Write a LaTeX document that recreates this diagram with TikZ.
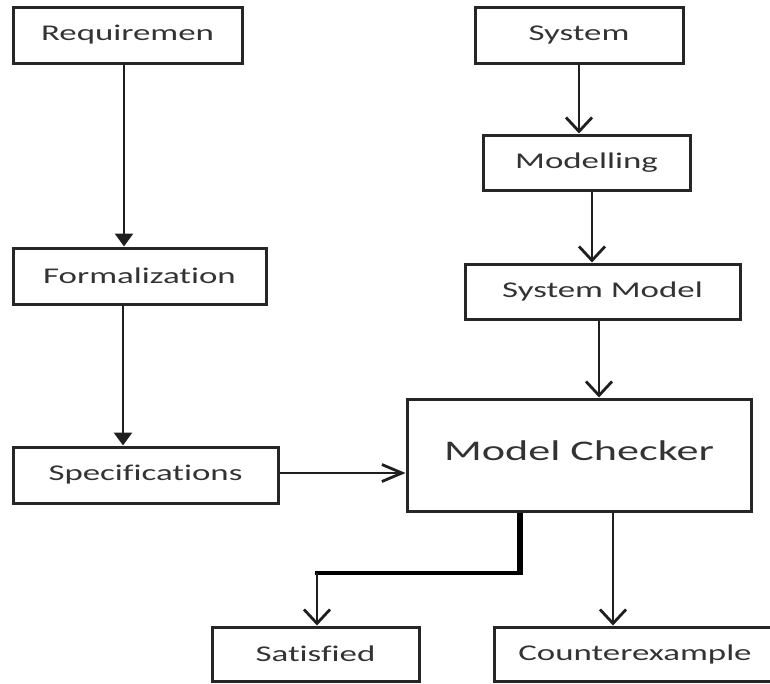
\documentclass[tikz,border=0pt]{standalone}
\usepackage{fontspec}
\setmainfont{Carlito}[FakeStretch=1.55,Ligatures={NoCommon}]
\usetikzlibrary{arrows.meta}
\begin{document}
\begin{tikzpicture}[x=1pt,y=-1pt,
  box/.style={draw=black!85, line width=3pt, rectangle, inner sep=0pt,
    font=\fontsize{22.5}{26}\selectfont, text=black!80},
  flow/.style={line width=2.8pt, draw=black!88},
  filltip/.style={-{Triangle[length=13pt,width=18pt]}},
  barbtip/.style={-{Straight Barb[length=14pt,width=26pt]}},
  longbarb/.style={-{Straight Barb[length=20pt,width=17pt]}}]
\useasboundingbox (0,0) rectangle (770,683);
\node[box, minimum width=229pt, minimum height=56pt] (req) at (127.5,35) {Requiremen};
\node[box, minimum width=253pt, minimum height=56pt] (form) at (139.5,276) {Formalization};
\node[box, minimum width=265pt, minimum height=56pt] (spec) at (145.5,475) {Specifications};
\node[box, minimum width=208pt, minimum height=56pt] (sys) at (579,35) {System};
\node[box, minimum width=207pt, minimum height=55pt] (mod) at (586.5,162.5) {Modelling};
\node[box, minimum width=275pt, minimum height=55pt] (sm) at (602.5,291.5) {System Model};
\node[box, minimum width=344pt, minimum height=112pt, font=\fontsize{28.5}{32}\selectfont] (mc) at (579,455) {\raisebox{8pt}{Model Checker}};
\node[box, minimum width=207pt, minimum height=54pt] (sat) at (315.5,654) {Satisfied};
\node[box, minimum width=282pt, minimum height=54pt] (ce) at (635,654) {Counterexample};
\coordinate (jn) at (317,573);

\draw[flow, filltip] ([xshift=-3.5pt]req.south) -- ([xshift=-3.5pt]req.south |- form.north);
\draw[flow, filltip] ([xshift=-16.5pt]form.south) -- ([xshift=-16.5pt]form.south |- spec.north);
\draw[flow, longbarb] ([yshift=2pt]spec.east) -- ([yshift=2pt]spec.east -| mc.west);
\draw[flow, barbtip] (sys.south) -- (sys.south |- mod.north);
\draw[flow, barbtip] ([xshift=5.5pt]mod.south) -- ([xshift=5.5pt]mod.south |- sm.north);
\draw[flow, barbtip] ([xshift=-3.5pt]sm.south) -- ([xshift=-3.5pt]sm.south |- mc.north);
\draw[line width=6.5pt] ([xshift=-59pt]mc.south) -- ([xshift=-59pt,yshift=-2pt]mc.south |- jn);
\draw[line width=4.5pt] ([xshift=-59pt]mc.south |- jn) -- ([xshift=-2pt]jn);
\draw[flow, barbtip] (jn) -- (jn |- sat.north);
\draw[flow, barbtip] ([xshift=34pt]mc.south) -- ([xshift=34pt]mc.south |- ce.north);
\end{tikzpicture}
\end{document}
